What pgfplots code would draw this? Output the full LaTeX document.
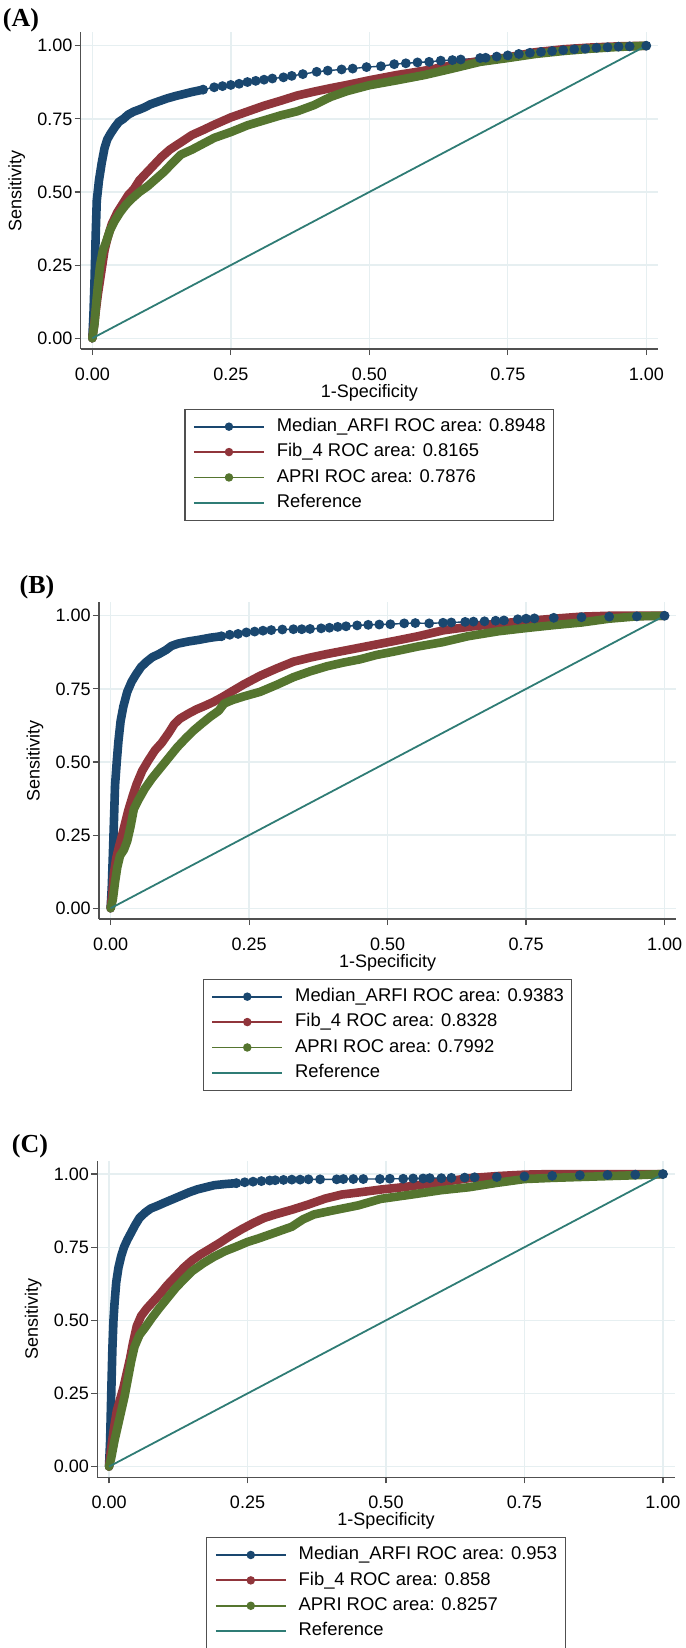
\documentclass[border=0pt]{standalone}
\usepackage{fontspec}
\setmainfont{Liberation Sans}
\newfontfamily\tnr{Liberation Serif}
\usepackage{pgfplots}
\pgfplotsset{compat=1.18}

\definecolor{navy}{HTML}{1A476F}
\definecolor{maroon}{HTML}{90353B}
\definecolor{fgreen}{HTML}{55752F}
\definecolor{refc}{HTML}{2F7C75}
\definecolor{gridc}{HTML}{E6EFF1}
\definecolor{axc}{HTML}{505050}

\pgfplotsset{
  rocax/.style={
    scale only axis, width=288.6pt, height=158.4pt,
    xmin=-0.021, xmax=1.021, ymin=-0.037, ymax=1.046,
    axis x line=bottom, axis y line=left,
    axis line style={draw=axc, line width=0.7pt, -},
    xtick={0,0.25,0.5,0.75,1}, ytick={0,0.25,0.5,0.75,1},
    /pgf/number format/.cd, fixed, fixed zerofill, precision=2, assume math mode=true, /pgfplots/.cd,
    tick align=outside, major tick length=3pt,
    tick style={draw=axc, line width=0.6pt},
    grid=major, major grid style={draw=gridc, line width=0.7pt},
    ticklabel style={font=\fontsize{9}{10}\selectfont},
    yticklabel style={inner sep=1pt},
    xticklabel style={inner sep=1pt, yshift=-5pt},
    xlabel={1-Specificity}, ylabel={Sensitivity},
    label style={font=\fontsize{9}{10}\selectfont},
    xlabel style={at={(axis description cs:0.5,-0.137)}, anchor=center},
    ylabel style={at={(axis description cs:-0.111,0.5)}, anchor=center},
    legend style={at={(axis description cs:0.5,-0.188)}, anchor=north,
      draw=axc, line width=0.6pt, fill=white,
      font=\fontsize{9.2}{11}\selectfont,
      inner xsep=4pt, inner ysep=4.5pt, row sep=4.3pt, column sep=6pt,
      nodes={inner sep=0pt, text height=6.6pt, text depth=1.8pt}},
    legend cell align=left,
  },
  band/.style={line width=4.3pt, line join=round, line cap=round, mark=none},
  dots/.style={line width=0.7pt, mark=*, mark size=2.1pt, mark options={solid}},
  refl/.style={refc, line width=0.9pt, mark=none},
}
\newcommand{\legimgs}{%
  \addlegendimage{legend image code/.code={\draw[navy,line width=0.9pt] (0pt,0pt)--(35pt,0pt); \fill[navy] (17.5pt,0pt) circle (1.8pt);}}
  \addlegendimage{legend image code/.code={\draw[maroon,line width=0.9pt] (0pt,0pt)--(35pt,0pt); \fill[maroon] (17.5pt,0pt) circle (1.8pt);}}
  \addlegendimage{legend image code/.code={\draw[fgreen,line width=0.9pt] (0pt,0pt)--(35pt,0pt); \fill[fgreen] (17.5pt,0pt) circle (1.8pt);}}
  \addlegendimage{legend image code/.code={\draw[refc,line width=0.9pt] (0pt,0pt)--(35pt,0pt);}}
}

\begin{document}
\begin{tikzpicture}
\useasboundingbox (0,0) rectangle (342.5pt,-824pt);

\node[font=\tnr\bfseries\fontsize{13}{13}\selectfont] at (10.5pt,-10pt) {(A)};
\node[font=\tnr\bfseries\fontsize{13}{13}\selectfont] at (18.5pt,-293.75pt) {(B)};
\node[font=\tnr\bfseries\fontsize{13}{13}\selectfont] at (15pt,-573.25pt) {(C)};

% ---------------- panel A
\begin{axis}[rocax, at={(40.35pt,-16.15pt)}, anchor=north west]
\legimgs
\addlegendentry{Median\_ARFI ROC area: 0.8948\hspace{6.5pt}}
\addlegendentry{Fib\_4 ROC area: 0.8165}
\addlegendentry{APRI ROC area: 0.7876}
\addlegendentry{Reference}
\addplot[navy, band, forget plot] coordinates {(0,0) (0.002,0.08) (0.004,0.2) (0.006,0.35) (0.008,0.47) (0.012,0.54) (0.017,0.6) (0.022,0.65) (0.027,0.68) (0.033,0.7) (0.04,0.72) (0.048,0.74) (0.056,0.75) (0.065,0.765) (0.075,0.775) (0.085,0.782) (0.095,0.79) (0.105,0.8) (0.12,0.81) (0.135,0.82) (0.15,0.828) (0.165,0.835) (0.18,0.842) (0.2,0.85)};
\addplot[navy, dots, forget plot] coordinates {(0.2,0.85) (0.22,0.858) (0.235,0.862) (0.25,0.866) (0.265,0.87) (0.28,0.876) (0.295,0.88) (0.31,0.884) (0.325,0.888) (0.345,0.892) (0.36,0.897) (0.38,0.903) (0.405,0.911) (0.425,0.915) (0.45,0.919) (0.47,0.922) (0.495,0.927) (0.521,0.93) (0.545,0.937) (0.566,0.94) (0.587,0.943) (0.608,0.945) (0.629,0.949) (0.65,0.951) (0.665,0.953) (0.7,0.958) (0.71,0.959) (0.73,0.963) (0.75,0.967) (0.77,0.972) (0.79,0.976) (0.81,0.979) (0.83,0.982) (0.85,0.985) (0.87,0.988) (0.89,0.99) (0.91,0.993) (0.93,0.995) (0.95,0.997) (0.97,0.998) (1,1)};
\addplot[maroon, band, forget plot] coordinates {(0,0) (0.003,0.04) (0.006,0.09) (0.01,0.15) (0.014,0.2) (0.018,0.25) (0.022,0.3) (0.027,0.34) (0.035,0.39) (0.045,0.43) (0.055,0.46) (0.065,0.49) (0.075,0.51) (0.085,0.54) (0.095,0.56) (0.11,0.59) (0.125,0.62) (0.14,0.645) (0.16,0.67) (0.18,0.695) (0.2,0.712) (0.22,0.73) (0.25,0.755) (0.28,0.775) (0.31,0.795) (0.34,0.812) (0.37,0.83) (0.4,0.843) (0.43,0.855) (0.46,0.866) (0.5,0.882) (0.55,0.9) (0.6,0.915) (0.65,0.933) (0.7,0.948) (0.75,0.96) (0.8,0.978) (0.85,0.988) (0.9,0.994) (0.95,0.998) (1,1)};
\addplot[fgreen, band, forget plot] coordinates {(0,0) (0.004,0.05) (0.007,0.12) (0.01,0.18) (0.014,0.25) (0.019,0.3) (0.025,0.33) (0.032,0.37) (0.04,0.4) (0.05,0.43) (0.06,0.455) (0.07,0.475) (0.085,0.5) (0.1,0.52) (0.115,0.545) (0.13,0.57) (0.145,0.6) (0.16,0.628) (0.18,0.645) (0.2,0.665) (0.22,0.685) (0.25,0.705) (0.28,0.728) (0.31,0.745) (0.34,0.762) (0.37,0.776) (0.4,0.797) (0.43,0.825) (0.46,0.845) (0.5,0.865) (0.55,0.882) (0.6,0.9) (0.65,0.922) (0.7,0.945) (0.75,0.958) (0.8,0.972) (0.85,0.982) (0.9,0.99) (0.95,0.996) (1,1)};
\addplot[refl, forget plot] coordinates {(0,0) (1,1)};
\end{axis}

% ---------------- panel B
\begin{axis}[rocax, at={(49.5pt,-301.15pt)}, anchor=north west]
\legimgs
\addlegendentry{Median\_ARFI ROC area: 0.9383\hspace{6.5pt}}
\addlegendentry{Fib\_4 ROC area: 0.8328}
\addlegendentry{APRI ROC area: 0.7992}
\addlegendentry{Reference}
\addplot[navy, band, forget plot] coordinates {(0,0) (0.002,0.07) (0.004,0.18) (0.006,0.3) (0.008,0.42) (0.011,0.5) (0.014,0.57) (0.018,0.64) (0.023,0.69) (0.03,0.74) (0.038,0.775) (0.046,0.8) (0.055,0.825) (0.065,0.843) (0.075,0.858) (0.088,0.87) (0.1,0.883) (0.11,0.897) (0.122,0.905) (0.14,0.912) (0.16,0.918) (0.18,0.925) (0.2,0.93)};
\addplot[navy, dots, forget plot] coordinates {(0.2,0.93) (0.215,0.935) (0.23,0.938) (0.245,0.943) (0.26,0.946) (0.275,0.949) (0.29,0.951) (0.31,0.953) (0.33,0.954) (0.345,0.954) (0.36,0.955) (0.38,0.957) (0.395,0.959) (0.41,0.962) (0.425,0.964) (0.445,0.967) (0.465,0.969) (0.485,0.97) (0.505,0.971) (0.53,0.974) (0.55,0.975) (0.575,0.974) (0.6,0.976) (0.615,0.977) (0.64,0.979) (0.655,0.98) (0.675,0.981) (0.695,0.983) (0.71,0.984) (0.735,0.988) (0.75,0.99) (0.765,0.991) (0.8,0.993) (0.85,0.995) (0.9,0.997) (0.95,0.998) (1,1)};
\addplot[maroon, band, forget plot] coordinates {(0,0) (0.003,0.05) (0.006,0.12) (0.01,0.17) (0.015,0.21) (0.02,0.245) (0.026,0.29) (0.032,0.335) (0.04,0.385) (0.047,0.425) (0.057,0.47) (0.068,0.505) (0.08,0.54) (0.092,0.565) (0.105,0.6) (0.115,0.63) (0.125,0.648) (0.14,0.665) (0.155,0.68) (0.17,0.692) (0.185,0.705) (0.2,0.72) (0.215,0.737) (0.24,0.765) (0.27,0.795) (0.3,0.82) (0.33,0.843) (0.36,0.857) (0.39,0.869) (0.42,0.88) (0.45,0.891) (0.48,0.902) (0.51,0.913) (0.555,0.93) (0.6,0.95) (0.65,0.963) (0.7,0.973) (0.75,0.982) (0.8,0.99) (0.85,0.997) (0.9,1) (1,1)};
\addplot[fgreen, band, forget plot] coordinates {(0,0) (0.004,0.03) (0.008,0.09) (0.012,0.14) (0.017,0.18) (0.024,0.2) (0.03,0.23) (0.036,0.28) (0.042,0.34) (0.05,0.37) (0.062,0.41) (0.075,0.445) (0.09,0.48) (0.105,0.515) (0.12,0.55) (0.135,0.58) (0.15,0.608) (0.165,0.632) (0.18,0.655) (0.195,0.675) (0.205,0.7) (0.22,0.712) (0.24,0.724) (0.27,0.74) (0.3,0.764) (0.33,0.79) (0.36,0.81) (0.39,0.827) (0.42,0.84) (0.45,0.851) (0.48,0.866) (0.51,0.877) (0.555,0.895) (0.6,0.91) (0.645,0.93) (0.7,0.947) (0.75,0.958) (0.8,0.968) (0.85,0.977) (0.9,0.99) (0.95,0.998) (1,1)};
\addplot[refl, forget plot] coordinates {(0,0) (1,1)};
\end{axis}

% ---------------- panel C
\begin{axis}[rocax, at={(48.7pt,-580.3pt)}, anchor=north west]
\legimgs
\addlegendentry{Median\_ARFI ROC area: 0.953\hspace{6.5pt}}
\addlegendentry{Fib\_4 ROC area: 0.858}
\addlegendentry{APRI ROC area: 0.8257}
\addlegendentry{Reference}
\addplot[navy, band, forget plot] coordinates {(0,0) (0.002,0.09) (0.004,0.25) (0.006,0.4) (0.008,0.5) (0.01,0.56) (0.013,0.63) (0.017,0.68) (0.022,0.72) (0.027,0.75) (0.033,0.775) (0.04,0.8) (0.047,0.825) (0.055,0.85) (0.065,0.868) (0.075,0.882) (0.088,0.892) (0.1,0.902) (0.115,0.914) (0.13,0.926) (0.145,0.938) (0.16,0.948) (0.175,0.955) (0.19,0.962) (0.21,0.966) (0.23,0.969)};
\addplot[navy, dots, forget plot] coordinates {(0.23,0.969) (0.245,0.972) (0.26,0.974) (0.275,0.976) (0.29,0.978) (0.3,0.979) (0.315,0.98) (0.33,0.981) (0.345,0.981) (0.36,0.982) (0.381,0.982) (0.411,0.982) (0.423,0.983) (0.441,0.983) (0.459,0.983) (0.489,0.983) (0.507,0.984) (0.531,0.984) (0.549,0.985) (0.567,0.985) (0.579,0.986) (0.6,0.986) (0.618,0.987) (0.642,0.988) (0.66,0.989) (0.7,0.99) (0.75,0.992) (0.8,0.994) (0.85,0.996) (0.9,0.997) (0.95,0.998) (1,1)};
\addplot[maroon, band, forget plot] coordinates {(0,0) (0.003,0.05) (0.008,0.12) (0.014,0.19) (0.02,0.23) (0.026,0.27) (0.032,0.32) (0.038,0.37) (0.043,0.42) (0.05,0.48) (0.058,0.515) (0.068,0.54) (0.08,0.565) (0.092,0.59) (0.105,0.62) (0.12,0.65) (0.135,0.68) (0.15,0.705) (0.165,0.725) (0.18,0.742) (0.2,0.765) (0.22,0.79) (0.24,0.812) (0.26,0.832) (0.28,0.85) (0.3,0.862) (0.33,0.878) (0.36,0.896) (0.39,0.916) (0.42,0.93) (0.45,0.937) (0.49,0.947) (0.53,0.955) (0.57,0.965) (0.61,0.975) (0.65,0.986) (0.7,0.993) (0.75,0.998) (0.8,1) (1,1)};
\addplot[fgreen, band, forget plot] coordinates {(0,0) (0.004,0.03) (0.01,0.09) (0.016,0.14) (0.022,0.19) (0.028,0.24) (0.034,0.3) (0.04,0.36) (0.046,0.41) (0.055,0.45) (0.065,0.475) (0.078,0.51) (0.09,0.54) (0.105,0.575) (0.12,0.61) (0.135,0.64) (0.15,0.668) (0.17,0.695) (0.19,0.718) (0.21,0.737) (0.23,0.752) (0.25,0.768) (0.27,0.78) (0.3,0.8) (0.33,0.82) (0.35,0.845) (0.37,0.862) (0.4,0.874) (0.45,0.893) (0.49,0.915) (0.55,0.931) (0.6,0.945) (0.65,0.955) (0.7,0.97) (0.75,0.983) (0.8,0.987) (0.85,0.99) (0.9,0.993) (0.95,0.996) (1,1)};
\addplot[refl, forget plot] coordinates {(0,0) (1,1)};
\end{axis}
\end{tikzpicture}
\end{document}
